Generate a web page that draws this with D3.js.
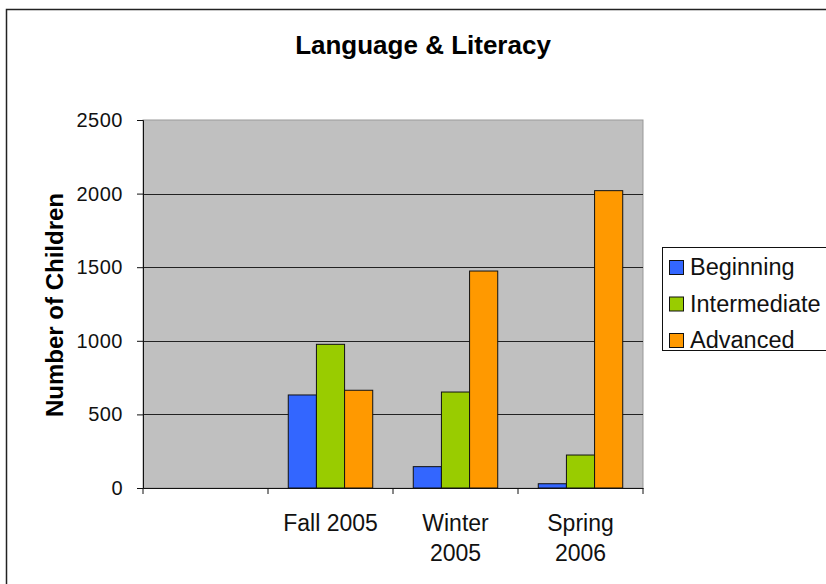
<!DOCTYPE html>
<html>
<head>
<meta charset="utf-8">
<script src="https://d3js.org/d3.v7.min.js"></script>
<style>
  body { margin: 0; background: #fff; }
  text { font-family: "Liberation Sans", Arial, sans-serif; }
</style>
</head>
<body>
<script>
var categories = ["", "Fall 2005", "Winter 2005", "Spring 2006"];
var seriesNames = ["Beginning", "Intermediate", "Advanced"];
var beginning = [0, 632, 145, 29];
var intermediate = [0, 976, 652, 224];
var advanced = [0, 664, 1474, 2020];
var yTicks = [0, 500, 1000, 1500, 2000, 2500];
var colors = ["#3366FF", "#99CC00", "#FF9900"];

var width = 826, height = 584;
var plotLeft = 143, plotRight = 643, plotTop = 120, plotBottom = 488;

var svg = d3.select("body").append("svg")
    .attr("width", width)
    .attr("height", height);

// outer chart border
svg.append("rect")
    .attr("x", 6.5).attr("y", 9.5)
    .attr("width", 830).attr("height", 600)
    .attr("fill", "none").attr("stroke", "#222").attr("stroke-width", 1.5);

svg.append("text")
    .attr("x", 423).attr("y", 54)
    .attr("text-anchor", "middle")
    .style("font-size", "26px").style("font-weight", "bold")
    .text("Language & Literacy");

var x = d3.scaleBand().domain(categories).range([plotLeft, plotRight]);
var inner = d3.scaleBand().domain(seriesNames).range([0, x.bandwidth()]).paddingInner(0).paddingOuter(0.72);
var y = d3.scaleLinear().domain([0, 2500]).range([plotBottom, plotTop]);

svg.append("rect")
    .attr("x", plotLeft).attr("y", plotTop)
    .attr("width", plotRight - plotLeft).attr("height", plotBottom - plotTop)
    .attr("fill", "#C0C0C0").attr("stroke", "#999").attr("stroke-width", 1);

svg.selectAll(".grid").data(yTicks.slice(1, -1)).enter()
    .append("line")
    .attr("x1", plotLeft).attr("x2", plotRight)
    .attr("y1", function(d) { return Math.round(y(d)) + 0.5; })
    .attr("y2", function(d) { return Math.round(y(d)) + 0.5; })
    .attr("stroke", "#222").attr("stroke-width", 1);

var table = categories.map(function(c, i) {
  return { cat: c, vals: [beginning[i], intermediate[i], advanced[i]] };
});

var groups = svg.selectAll(".grp").data(table).enter()
    .append("g")
    .attr("transform", function(d) { return "translate(" + x(d.cat) + ",0)"; });

groups.selectAll("rect")
    .data(function(d) { return d.vals.map(function(v, j) { return { name: seriesNames[j], v: v, j: j }; }); })
    .enter().append("rect")
    .filter(function(d) { return d.v > 0; })
    .attr("x", function(d) { return inner(d.name); })
    .attr("width", inner.bandwidth())
    .attr("y", function(d) { return y(d.v); })
    .attr("height", function(d) { return plotBottom - y(d.v); })
    .attr("fill", function(d) { return colors[d.j]; })
    .attr("stroke", "#111").attr("stroke-width", 1);

// y axis
var yAxis = d3.axisLeft(y).tickValues(yTicks).tickSize(6).tickPadding(14).tickFormat(d3.format("d"));
var gy = svg.append("g").attr("transform", "translate(" + plotLeft + ",0)").call(yAxis);
gy.select(".domain").attr("stroke", "#111");
gy.selectAll(".tick line").attr("stroke", "#111");
gy.selectAll(".tick text").style("font-size", "20px").style("letter-spacing", "0.5px")
    .attr("fill", "#111").attr("font-family", null);

// x axis
var xAxis = d3.axisBottom(x).tickSize(0).tickFormat("");
var gx = svg.append("g").attr("transform", "translate(0," + plotBottom + ")").call(xAxis);
gx.select(".domain").attr("stroke", "#111");
gx.selectAll(".tick").remove();
var edges = categories.map(function(c) { return x(c); }).concat([plotRight]);
gx.selectAll(".edge").data(edges).enter().append("line")
    .attr("x1", function(d) { return d; }).attr("x2", function(d) { return d; })
    .attr("y1", 0).attr("y2", 6).attr("stroke", "#111");

var labelLines = { "Fall 2005": ["Fall 2005"], "Winter 2005": ["Winter", "2005"], "Spring 2006": ["Spring", "2006"] };
categories.forEach(function(c) {
  if (!c) return;
  var cx = x(c) + x.bandwidth() / 2;
  var t = svg.append("text")
      .attr("text-anchor", "middle")
      .attr("x", cx)
      .attr("y", 531)
      .style("font-size", "23px").attr("fill", "#111");
  labelLines[c].forEach(function(s, k) {
    t.append("tspan").attr("x", cx).attr("dy", k ? 30 : 0).text(s);
  });
});

svg.append("text")
    .attr("transform", "translate(63," + ((plotTop + plotBottom) / 2 + 1) + ") rotate(-90)")
    .attr("text-anchor", "middle")
    .style("font-size", "24px").style("font-weight", "bold")
    .text("Number of Children");

// legend
var lg = svg.append("g");
lg.append("rect")
    .attr("x", 662.5).attr("y", 247.5).attr("width", 200).attr("height", 103)
    .attr("fill", "#fff").attr("stroke", "#111").attr("stroke-width", 1);
seriesNames.forEach(function(n, i) {
  var base = 275 + i * 36.5;
  lg.append("rect")
      .attr("x", 669.5).attr("y", base - 14.5).attr("width", 14).attr("height", 14)
      .attr("fill", colors[i]).attr("stroke", "#111");
  lg.append("text")
      .attr("x", 690).attr("y", base)
      .style("font-size", "23.5px").attr("fill", "#111")
      .text(n);
});
</script>
</body>
</html>
